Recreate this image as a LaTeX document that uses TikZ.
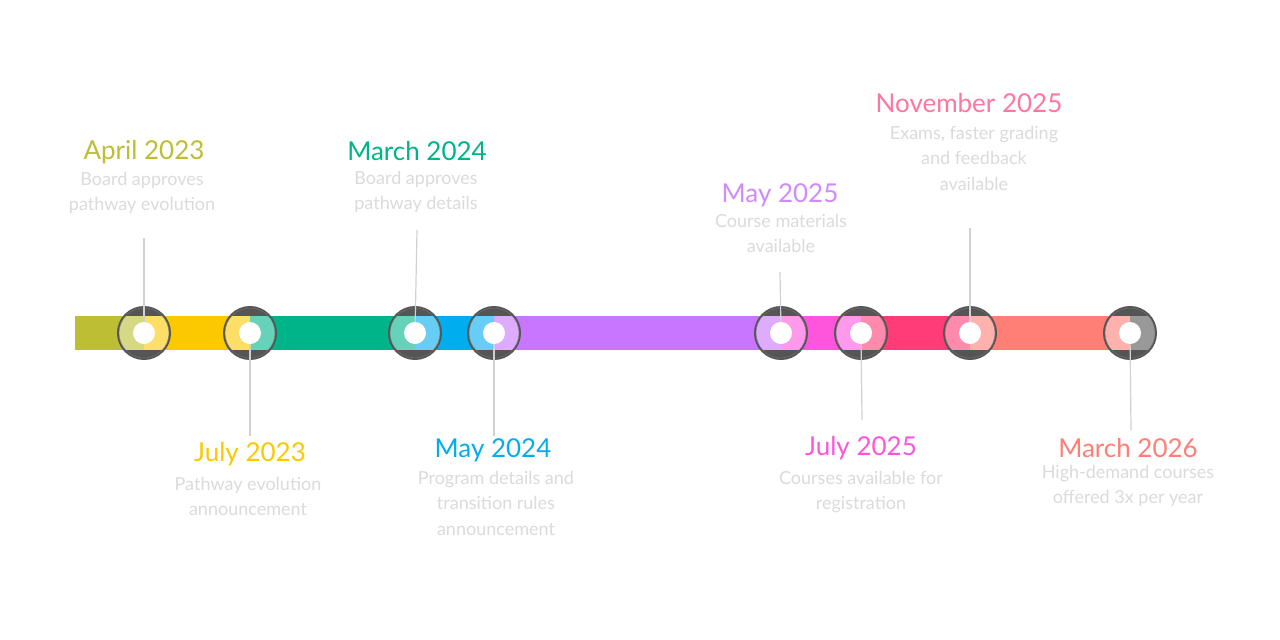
\documentclass[tikz,border=0pt]{standalone}
\usepackage{fontspec}
\setmainfont{Lato}
\begin{document}
\begin{tikzpicture}[x=1pt,y=-1pt,
  ttl/.style={font=\fontsize{26}{30}\selectfont,anchor=center,inner sep=0},
  dsc/.style={font=\fontsize{18}{25.5}\selectfont,text=black!14,align=center,anchor=north,inner sep=0},
  lead/.style={draw=black!18,line width=1.2pt}]
\definecolor{c1}{HTML}{BDBE33}\definecolor{c2}{HTML}{FCC800}\definecolor{c3}{HTML}{00B48A}
\definecolor{c4}{HTML}{00AEEF}\definecolor{c5}{HTML}{C875FF}\definecolor{c6}{HTML}{FF55DD}
\definecolor{c7}{HTML}{FF3C78}\definecolor{c8}{HTML}{FF7F76}\definecolor{dk}{HTML}{555555}
\useasboundingbox (0,0) rectangle (1280,640);
\fill[white] (0,0) rectangle (1280,640);
% leaders (behind)
\coordinate (t1) at (144,238); \coordinate (t3) at (417,230); \coordinate (t5) at (780,272); \coordinate (t7) at (970,228);
\coordinate (b2) at (250,436); \coordinate (b4) at (494,436); \coordinate (b6) at (862,420); \coordinate (b8) at (1131,430);
% bar
\def\xs{{75,144,250,415,494,781,861,970,1130}}
\fill[c1] (75,316) rectangle (144,350);
\fill[c2] (144,316) rectangle (250,350);
\fill[c3] (250,316) rectangle (415,350);
\fill[c4] (415,316) rectangle (494,350);
\fill[c5] (494,316) rectangle (781,350);
\fill[c6] (781,316) rectangle (861,350);
\fill[c7] (861,316) rectangle (970,350);
\fill[c8] (970,316) rectangle (1130,350);
% milestones
\foreach \x/\l/\r [count=\i] in {144/c1/c2,250/c2/c3,415/c3/c4,494/c4/c5,781/c5/c6,861/c6/c7,970/c7/c8,1130/c8/dk}{
  \coordinate (m\i) at (\x,333);
  \fill[dk] (m\i) circle (27);
  \begin{scope}
    \clip (m\i) circle (25);
    \fill[\l!60!white] (\x-30,316) rectangle (\x,350);
    \ifx\r dk\else\fill[\r!60!white] (\x,316) rectangle (\x+30,350);\fi
  \end{scope}
  \draw[black!55,line width=0.8pt,opacity=0.6] (m\i) circle (25);
}
\draw[lead] (t1) -- (m1); \draw[lead] (t3) -- (m3); \draw[lead] (t5) -- (m5); \draw[lead] (t7) -- (m7);
\draw[lead] (m2) -- (b2); \draw[lead] (m4) -- (b4); \draw[lead] (m6) -- (b6); \draw[lead] (m8) -- (b8);
\foreach \i in {1,...,8} \fill[white] (m\i) circle (11);
% labels
\node[ttl,text=c1] (l1) at (144,152) {April 2023};
\node[dsc] (d1) at (142,172) {Board approves\\pathway evolution};
\node[ttl,text=c3] (l3) at (417,151) {March 2024};
\node[dsc] (d3) at (416,171) {Board approves\\pathway details};
\node[ttl,text=c5!85!white] (l5) at (780,195) {May 2025};
\node[dsc] (d5) at (781,214) {Course materials\\available};
\node[ttl,text=c7!70!white] (l7) at (969,103) {November 2025};
\node[dsc] (d7) at (974,126) {Exams, faster grading\\and feedback\\available};
\node[ttl,text=c2] (l2) at (250,454) {July 2023};
\node[dsc] (d2) at (248,477) {Pathway evolution\\announcement};
\node[ttl,text=c4] (l4) at (493,450) {May 2024};
\node[dsc] (d4) at (496,471) {Program details and\\transition rules\\announcement};
\node[ttl,text=c6] (l6) at (861,448) {July 2025};
\node[dsc] (d6) at (861,471) {Courses available for\\registration};
\node[ttl,text=c8] (l8) at (1128,448) {March 2026};
\node[dsc] (d8) at (1128,465) {High-demand courses\\offered 3x per year};
\end{tikzpicture}
\end{document}
